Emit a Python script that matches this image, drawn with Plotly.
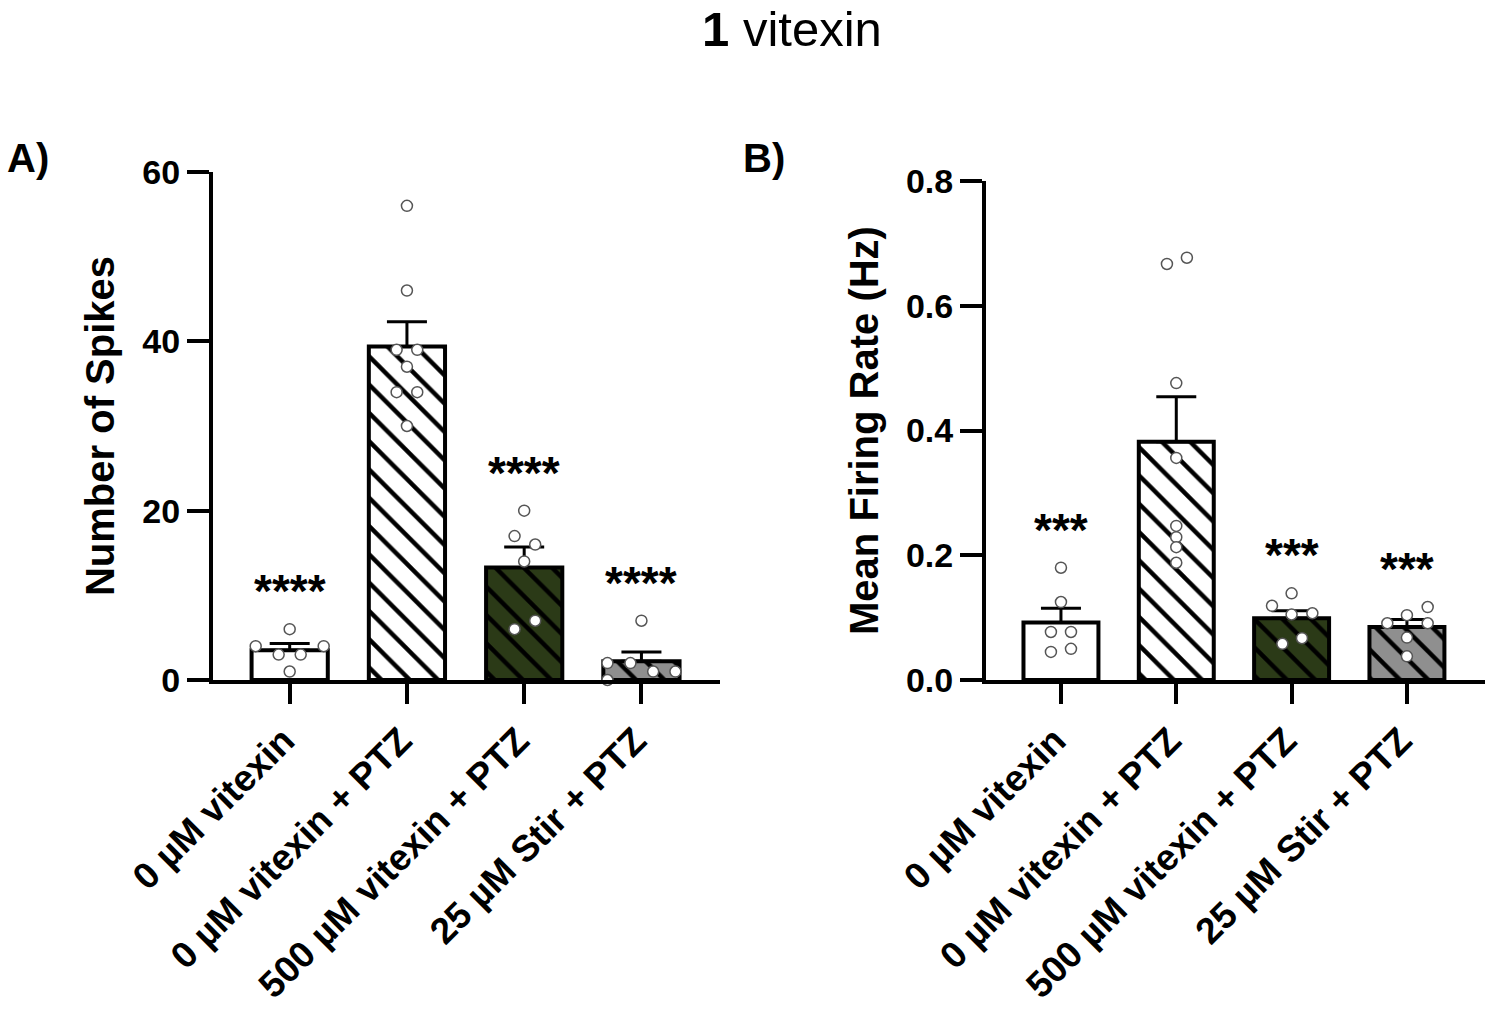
import plotly.graph_objects as go

categories = ["0 µM vitexin", "0 µM vitexin + PTZ", "500 µM vitexin + PTZ", "25 µM Stir + PTZ"]

# Panel A: Number of Spikes
spikes_mean = [3.5, 39.4, 13.3, 2.2]
spikes_sem = [0.8, 2.9, 2.4, 1.1]
spikes_points = [
    [6, 4, 4, 3, 3, 1],
    [56, 46, 39, 39, 37, 34, 34, 30],
    [20, 17, 16, 14, 7, 6],
    [7, 2, 2, 1, 1, 0],
]
spikes_jitter = [
    [0, -0.29, 0.29, -0.094, 0.094, 0],
    [0, 0, -0.088, 0.088, 0, -0.088, 0.088, 0],
    [0, -0.082, 0.094, 0, 0.094, -0.082],
    [0, -0.29, -0.094, 0.1, 0.29, -0.29],
]
spikes_stars = ["****", "", "****", "****"]

# Panel B: Mean Firing Rate (Hz)
rate_mean = [0.092, 0.382, 0.099, 0.085]
rate_sem = [0.023, 0.072, 0.012, 0.012]
rate_points = [
    [0.18, 0.125, 0.077, 0.077, 0.05, 0.045],
    [0.667, 0.677, 0.476, 0.356, 0.247, 0.229, 0.213, 0.188],
    [0.139, 0.119, 0.107, 0.105, 0.067, 0.058],
    [0.117, 0.104, 0.091, 0.091, 0.068, 0.038],
]
rate_jitter = [
    [0, 0, -0.087, 0.087, 0.087, -0.087],
    [-0.081, 0.092, 0, 0, 0, 0, 0, 0],
    [0, -0.17, 0.18, 0, 0.09, -0.08],
    [0.18, 0, -0.17, 0.18, 0, 0],
]
rate_stars = ["***", "", "***", "***"]

bar_colors = ["#ffffff", "#ffffff", "#2b3a17", "#8f8f8f"]
bar_patterns = ["", "\\", "\\", "\\"]

FONT = "Liberation Sans"
fig = go.Figure()

def add_panel(means, sems, points, jitter, stars, xa, ya):
    for i in range(len(categories)):
        marker = dict(color=bar_colors[i], line=dict(color="black", width=4))
        if bar_patterns[i]:
            marker["pattern"] = dict(shape=bar_patterns[i], fgcolor="black", bgcolor=bar_colors[i],
                                     size=20, solidity=0.22, fillmode="replace", fgopacity=1)
        fig.add_trace(go.Bar(
            x=[i], y=[means[i]], width=0.65, xaxis=xa, yaxis=ya,
            marker=marker,
            error_y=dict(type="data", array=[sems[i]], arrayminus=[0], symmetric=False,
                         color="black", thickness=3, width=20),
            showlegend=False, hoverinfo="skip",
        ))
    px_, py_ = [], []
    for i, (vals, jit) in enumerate(zip(points, jitter)):
        for v, j in zip(vals, jit):
            px_.append(i + j)
            py_.append(v)
    fig.add_trace(go.Scatter(
        x=px_, y=py_, mode="markers", xaxis=xa, yaxis=ya, cliponaxis=False,
        marker=dict(symbol="circle", size=11, color="white", line=dict(color="#555555", width=1.5)),
        showlegend=False, hoverinfo="skip",
    ))
    for i, s in enumerate(stars):
        if s:
            fig.add_annotation(
                x=i, y=max(points[i]), xref=xa, yref=ya, text="<b>" + s + "</b>",
                showarrow=False, yanchor="bottom", yshift=10,
                font=dict(family=FONT, size=46, color="black"),
            )

add_panel(spikes_mean, spikes_sem, spikes_points, spikes_jitter, spikes_stars, "x", "y")
add_panel(rate_mean, rate_sem, rate_points, rate_jitter, rate_stars, "x2", "y2")

W, H = 1489, 1015
xcommon = dict(
    tickmode="array", tickvals=list(range(len(categories))), ticktext=categories,
    tickangle=-45, ticks="outside", ticklen=20, tickwidth=4, tickcolor="black",
    showline=True, linecolor="black", linewidth=4, showgrid=False, zeroline=False,
    automargin=False, ticklabelshift=-6,
    tickfont=dict(family=FONT, size=37, color="black", weight="bold"),
)
ycommon = dict(
    ticks="outside", ticklen=22, tickwidth=4, tickcolor="black",
    showline=True, linecolor="black", linewidth=4, showgrid=False, zeroline=False,
    automargin=False,
    tickfont=dict(family=FONT, size=34, color="black", weight="bold"),
)

fig.update_layout(
    template="none",
    width=W, height=H, autosize=False,
    margin=dict(l=0, r=0, t=0, b=0, pad=0),
    paper_bgcolor="white", plot_bgcolor="white",
    barmode="overlay",
    xaxis=dict(domain=[213 / W, 720 / W], range=[-0.654, 3.67], anchor="y", **xcommon),
    yaxis=dict(domain=[1 - 680 / H, 1 - 172 / H], range=[0, 60], tickvals=[0, 20, 40, 60],
               anchor="x",
               title=dict(text="Number of Spikes", standoff=16,
                          font=dict(family=FONT, size=40, color="black", weight="bold")),
               **ycommon),
    xaxis2=dict(domain=[986 / W, 1485 / W], range=[-0.65, 3.677], anchor="y2", **xcommon),
    yaxis2=dict(domain=[1 - 680 / H, 1 - 181 / H], range=[0, 0.8], tickvals=[0, 0.2, 0.4, 0.6, 0.8],
                tickformat=".1f", anchor="x2",
                title=dict(text="Mean Firing Rate (Hz)", standoff=16,
                           font=dict(family=FONT, size=40, color="black", weight="bold")),
                **ycommon),
)

fig.add_annotation(x=792 / W, y=1, xref="paper", yref="paper",
                   text="<b>1</b> vitexin", showarrow=False, yanchor="top", xanchor="center",
                   font=dict(family=FONT, size=49, color="black"))
fig.add_annotation(x=28 / W, y=1 - 158 / H, xref="paper", yref="paper",
                   text="<b>A)</b>", showarrow=False, yanchor="middle", xanchor="center",
                   font=dict(family=FONT, size=40, color="black"))
fig.add_annotation(x=764 / W, y=1 - 158 / H, xref="paper", yref="paper",
                   text="<b>B)</b>", showarrow=False, yanchor="middle", xanchor="center",
                   font=dict(family=FONT, size=40, color="black"))

fig.write_html("out.html", config={"displayModeBar": False},
               post_script="document.body.style.margin='0px';")
